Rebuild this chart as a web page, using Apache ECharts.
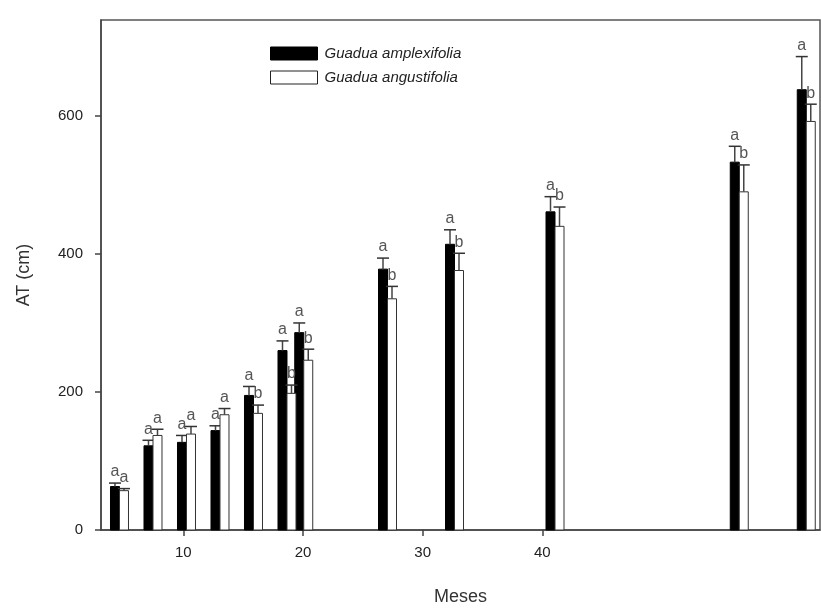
<!DOCTYPE html>
<html>
<head>
<meta charset="utf-8">
<script src="https://cdn.jsdelivr.net/npm/echarts@6/dist/echarts.min.js"></script>
<style>
  html, body { margin: 0; padding: 0; background: #fff; }
  #chart { width: 821px; height: 613px; }
</style>
</head>
<body>
<div id="chart"></div>
<script>
// meses de cada medición
const months = [4, 6, 8, 10, 12, 14, 15, 20, 24, 30, 41, 45]
// Guadua amplexifolia
const amplexValues = [63, 122, 127, 144, 195, 260, 286, 378, 414, 461, 533, 638]
const amplexErr = [5, 8, 10, 7, 13, 14, 14, 16, 21, 22, 23, 48]
const amplexLetters = ['a', 'a', 'a', 'a', 'a', 'a', 'a', 'a', 'a', 'a', 'a', 'a']
// Guadua angustifolia
const angustValues = [57, 137, 139, 167, 169, 198, 246, 335, 376, 440, 490, 592]
const angustErr = [3, 9, 11, 9, 12, 12, 16, 18, 25, 28, 39, 25]
const angustLetters = ['a', 'a', 'a', 'a', 'b', 'b', 'b', 'b', 'b', 'b', 'b', 'b']
// etiquetas de los ejes
const xTicks = [10, 20, 30, 40]
const yTicks = [0, 200, 400, 600]

const BAR_W = 9
const CAP_W = 12
const FONT = '"Liberation Sans", Arial, sans-serif'

// barra + barra de error + letra
const makeRender = (offset, fill, stroke, errors, letters) => (params, api) => {
  const i = params.dataIndex
  const x = api.value(0)
  const v = api.value(1)
  const base = api.coord([x, 0])
  const top = api.coord([x, v])
  const cap = api.coord([x, v + errors[i]])
  const cx = base[0] + offset
  return {
    type: 'group',
    children: [
      {
        type: 'rect',
        shape: { x: cx - BAR_W / 2, y: top[1], width: BAR_W, height: base[1] - top[1] },
        style: { fill: fill, stroke: stroke, lineWidth: 1 }
      },
      {
        type: 'line',
        shape: { x1: cx, y1: top[1], x2: cx, y2: cap[1] },
        style: { stroke: '#444', lineWidth: 1.5 }
      },
      {
        type: 'line',
        shape: { x1: cx - CAP_W / 2, y1: cap[1], x2: cx + CAP_W / 2, y2: cap[1] },
        style: { stroke: '#333', lineWidth: 1.5 }
      },
      {
        type: 'text',
        x: cx,
        y: cap[1] - 3,
        style: {
          text: letters[i],
          fill: '#555',
          font: '16px ' + FONT,
          textAlign: 'center',
          textVerticalAlign: 'bottom'
        }
      }
    ]
  }
}

const myChart = echarts.init(document.getElementById('chart'))
myChart.setOption({
  backgroundColor: '#fff',
  animation: false,
  grid: {
    left: 101,
    right: 1,
    top: 20,
    bottom: 83,
    show: true,
    borderColor: '#555',
    borderWidth: 1.5
  },
  legend: {
    orient: 'vertical',
    left: 265,
    top: 41,
    itemWidth: 47,
    itemHeight: 13,
    itemGap: 9,
    textStyle: {
      fontFamily: FONT,
      fontStyle: 'italic',
      fontSize: 15,
      color: '#222',
      padding: [0, 0, 0, 2]
    },
    data: [
      { name: 'Guadua amplexifolia', icon: 'rect', itemStyle: { color: '#000', borderColor: '#000', borderWidth: 1 } },
      { name: 'Guadua angustifolia', icon: 'rect', itemStyle: { color: '#fff', borderColor: '#222', borderWidth: 1 } }
    ]
  },
  xAxis: [
    {
      type: 'value',
      min: 3.12,
      max: 63.2,
      name: 'Meses',
      nameLocation: 'middle',
      nameGap: 58,
      nameTextStyle: { fontFamily: FONT, fontSize: 18, color: '#333' },
      axisLine: { show: true, onZero: false, lineStyle: { color: '#444', width: 1.5 } },
      axisTick: { show: true, length: 6, customValues: xTicks, lineStyle: { color: '#444', width: 1.5 } },
      axisLabel: {
        customValues: xTicks,
        margin: 15,
        fontFamily: FONT,
        fontSize: 15,
        color: '#222'
      },
      splitLine: { show: false }
    },
    {
      // eje oculto para ubicar las barras
      type: 'value',
      min: 2.896,
      max: 45.82,
      show: false,
      splitLine: { show: false }
    }
  ],
  yAxis: [
    {
      type: 'value',
      min: 0,
      max: 739,
      name: 'AT (cm)',
      nameLocation: 'middle',
      nameGap: 68,
      nameTextStyle: { fontFamily: FONT, fontSize: 18, color: '#333' },
      axisLine: { show: true, lineStyle: { color: '#444', width: 1.5 } },
      axisTick: { show: true, length: 6, customValues: yTicks, lineStyle: { color: '#444', width: 1.5 } },
      axisLabel: {
        customValues: yTicks,
        margin: 18,
        fontFamily: FONT,
        fontSize: 15,
        color: '#222'
      },
      splitLine: { show: false }
    }
  ],
  series: [
    {
      name: 'Guadua amplexifolia',
      type: 'custom',
      xAxisIndex: 1,
      yAxisIndex: 0,
      itemStyle: { color: '#000' },
      encode: { x: 0, y: 1 },
      renderItem: makeRender(-BAR_W / 2, '#000', '#000', amplexErr, amplexLetters),
      data: months.map((m, i) => [m, amplexValues[i]])
    },
    {
      name: 'Guadua angustifolia',
      type: 'custom',
      xAxisIndex: 1,
      yAxisIndex: 0,
      itemStyle: { color: '#fff', borderColor: '#222' },
      encode: { x: 0, y: 1 },
      renderItem: makeRender(BAR_W / 2, '#fff', '#333', angustErr, angustLetters),
      data: months.map((m, i) => [m, angustValues[i]])
    }
  ]
})
</script>
</body>
</html>
